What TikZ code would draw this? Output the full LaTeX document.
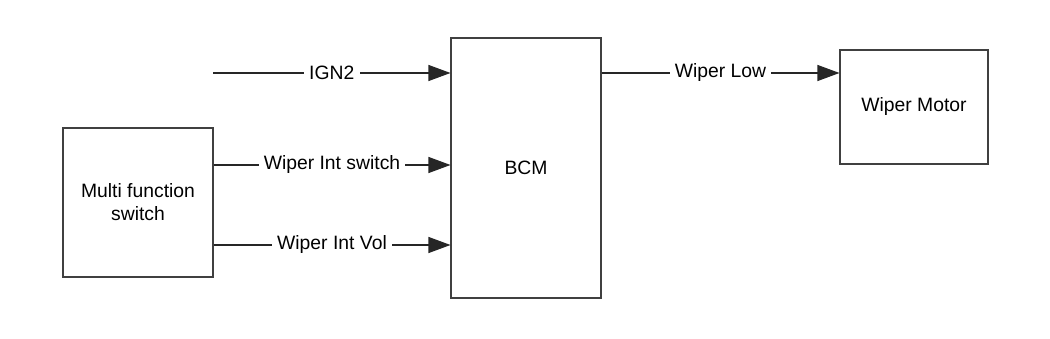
\documentclass[tikz,border=0pt]{standalone}
\usepackage{fontspec}
\setmainfont{Liberation Sans}
\usetikzlibrary{arrows.meta,positioning,calc}

\begin{document}
\begin{tikzpicture}[
    module/.style={rectangle, draw=black!75, line width=0.6pt, align=center, font=\fontsize{11}{13}\selectfont},
    signal/.style={-{Triangle[length=4.4mm, width=3.2mm]}, draw=black!85, line width=0.6pt},
    lbl/.style={fill=white, inner xsep=3pt, inner ysep=1pt, font=\fontsize{11}{13}\selectfont}
]

% Fix the canvas to the reference proportions
\useasboundingbox (0, 0) rectangle (21, 6.78);

% Modules
\node[module, minimum width=30mm, minimum height=29.8mm] (mfs) at (2.76, 2.73) {Multi function\\switch};
\node[module, minimum width=30mm, minimum height=52mm] (bcm) at (10.52, 3.42) {BCM};
\node[module, minimum width=29.6mm, minimum height=22.8mm] (motor) at (18.28, 4.64) {Wiper Motor};

% Ignition feed - free start point
\coordinate (ign) at (4.26, 5.32);

% Inputs to BCM
\draw[signal] (ign) -- (ign -| bcm.west) node[midway, lbl] {IGN2};
\draw[signal] ([yshift=7.5mm]mfs.east) -- ([yshift=7.5mm]mfs.east -| bcm.west) node[midway, lbl] {Wiper Int switch};
\draw[signal] ([yshift=-8.5mm]mfs.east) -- ([yshift=-8.5mm]mfs.east -| bcm.west) node[midway, lbl] {Wiper Int Vol};

% Output to motor
\draw[signal] (ign -| bcm.east) -- (ign -| motor.west) node[midway, lbl] {Wiper Low};

\end{tikzpicture}
\end{document}
